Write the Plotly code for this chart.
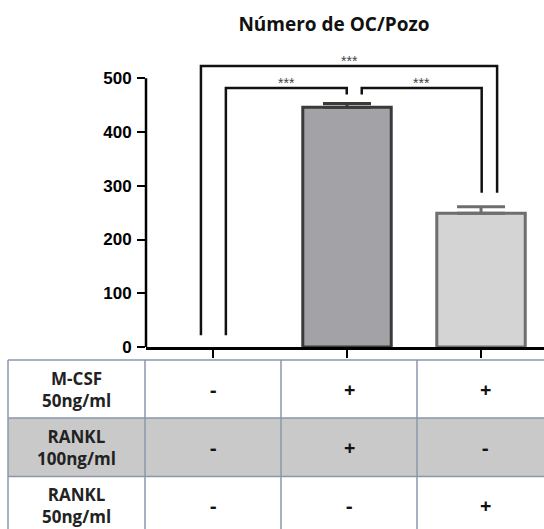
import plotly.graph_objects as go

# ---- data -------------------------------------------------------------
groups = [0, 1, 2]
oc_per_well = [0, 446, 249]
oc_sem = [0, 7, 12]
bar_fill = ["#ffffff", "#a3a3a7", "#d4d4d4"]
bar_edge = ["#222222", "#3a3a3a", "#6e6e6e"]

row_labels = ["M-CSF<br>50ng/ml", "RANKL<br>100ng/ml", "RANKL<br>50ng/ml"]
treatment = [["-", "+", "+"],
             ["-", "+", "-"],
             ["-", "-", "+"]]
row_fill = ["#ffffff", "#c9c9c9", "#ffffff"]

y_ticks = [0, 100, 200, 300, 400, 500]

# significance comparisons: (left group, right group, label)
comparisons = [(0, 1, "***"), (1, 2, "***"), (0, 2, "***")]

# ---- layout geometry (pixels) -----------------------------------------
W, H = 544, 529
ML, MR, MT, MB = 146, 0, 46, 182
PW, PH = W - ML - MR, H - MT - MB


def px_x(px):
    return (px - ML) / PW


def px_y(py):
    return (H - MB - py) / PH


fig = go.Figure()

for g, v, e, fc, lc in zip(groups, oc_per_well, oc_sem, bar_fill, bar_edge):
    fig.add_trace(go.Bar(
        x=[g], y=[v], width=0.66,
        marker=dict(color=fc, line=dict(color=lc, width=3 if v > 0 else 0)),
        error_y=dict(type="data", array=[e], arrayminus=[0], symmetric=False,
                     visible=e > 0, color=lc, thickness=3, width=24),
        showlegend=False, hoverinfo="skip",
    ))

shapes = []
annotations = []

# y axis line only up to the last tick
shapes.append(dict(type="line", xref="paper", yref="y", x0=0, x1=0,
                   y0=0, y1=max(y_ticks), line=dict(color="black", width=2.5)))

# significance brackets
leg_clearance = [22, 17, 26]
leg_shift = {(0, 1): (0.096, -0.002), (1, 2): (0.11, 0.005), (0, 2): (-0.09, 0.12)}
bracket_top = {(0, 1): 482, (1, 2): 482, (0, 2): 523}
for a, b, lab in comparisons:
    xa = a + leg_shift[(a, b)][0]
    xb = b + leg_shift[(a, b)][1]
    ya = oc_per_well[a] + oc_sem[a] + leg_clearance[a]
    yb = oc_per_well[b] + oc_sem[b] + leg_clearance[b]
    yt = bracket_top[(a, b)]
    shapes.append(dict(type="path", xref="x", yref="y",
                       path=f"M {xa},{ya} L {xa},{yt} L {xb},{yt} L {xb},{yb}",
                       line=dict(color="#111111", width=2.5)))
    annotations.append(dict(x=(xa + xb) / 2, y=yt, xref="x", yref="y",
                            text=lab, showarrow=False, xanchor="center",
                            yanchor="bottom", yshift=-5,
                            font=dict(family="Liberation Sans", size=14,
                                      color="#444444")))

# condition table under the chart
col_edges = [8, 145, 281, 417, 553]
row_edges = [360, 418, 476.5, 535]
border = "#8a97ab"
for r in range(len(row_labels)):
    shapes.append(dict(type="rect", xref="paper", yref="paper",
                       x0=px_x(col_edges[0]), x1=px_x(col_edges[-1]),
                       y0=px_y(row_edges[r + 1]), y1=px_y(row_edges[r]),
                       fillcolor=row_fill[r], line=dict(width=0), layer="below"))
for ry in row_edges:
    shapes.append(dict(type="line", xref="paper", yref="paper",
                       x0=px_x(col_edges[0]), x1=px_x(col_edges[-1]),
                       y0=px_y(ry), y1=px_y(ry), line=dict(color=border, width=1.5)))
for cx in col_edges:
    shapes.append(dict(type="line", xref="paper", yref="paper",
                       x0=px_x(cx), x1=px_x(cx),
                       y0=px_y(row_edges[0]), y1=px_y(row_edges[-1]),
                       line=dict(color=border, width=1.5)))

for r, lab in enumerate(row_labels):
    yc = px_y((row_edges[r] + row_edges[r + 1]) / 2)
    annotations.append(dict(x=px_x((col_edges[0] + col_edges[1]) / 2), y=yc,
                            xref="paper", yref="paper", text=f"<b>{lab}</b>",
                            showarrow=False, align="center",
                            xanchor="center", yanchor="middle",
                            font=dict(family="Open Sans", size=17, color="#222222")))
    for g in groups:
        cx = px_x((col_edges[g + 1] + col_edges[g + 2]) / 2)
        annotations.append(dict(x=cx, y=yc, xref="paper", yref="paper",
                                text=f"<b>{treatment[r][g]}</b>", showarrow=False,
                                xanchor="center", yanchor="middle",
                                font=dict(family="Open Sans", size=20, color="#111111")))

fig.update_layout(
    width=W, height=H,
    margin=dict(l=ML, r=MR, t=MT, b=MB),
    paper_bgcolor="white", plot_bgcolor="white",
    barmode="overlay",
    title=dict(text="<b>Número de OC/Pozo</b>", x=px_x(334), xref="paper",
               xanchor="center", y=1 - 24 / H, yref="container", yanchor="middle",
               font=dict(family="Open Sans", size=19, color="#111111")),
    xaxis=dict(range=[-0.5, 2.47], tickvals=groups, showticklabels=False,
               ticks="outside", ticklen=8, tickwidth=2, tickcolor="black",
               showline=True, linecolor="black", linewidth=2.5,
               showgrid=False, zeroline=False, fixedrange=True),
    yaxis=dict(range=[0, 560], tickvals=y_ticks, ticks="outside", ticklen=8,
               tickwidth=2, tickcolor="black", showline=False, showgrid=False,
               zeroline=False, ticklabelstandoff=2,
               tickfont=dict(family="Liberation Sans", size=17, color="black",
                             weight="bold")),
    shapes=shapes,
    annotations=annotations,
)

fig.write_html("out.html")
